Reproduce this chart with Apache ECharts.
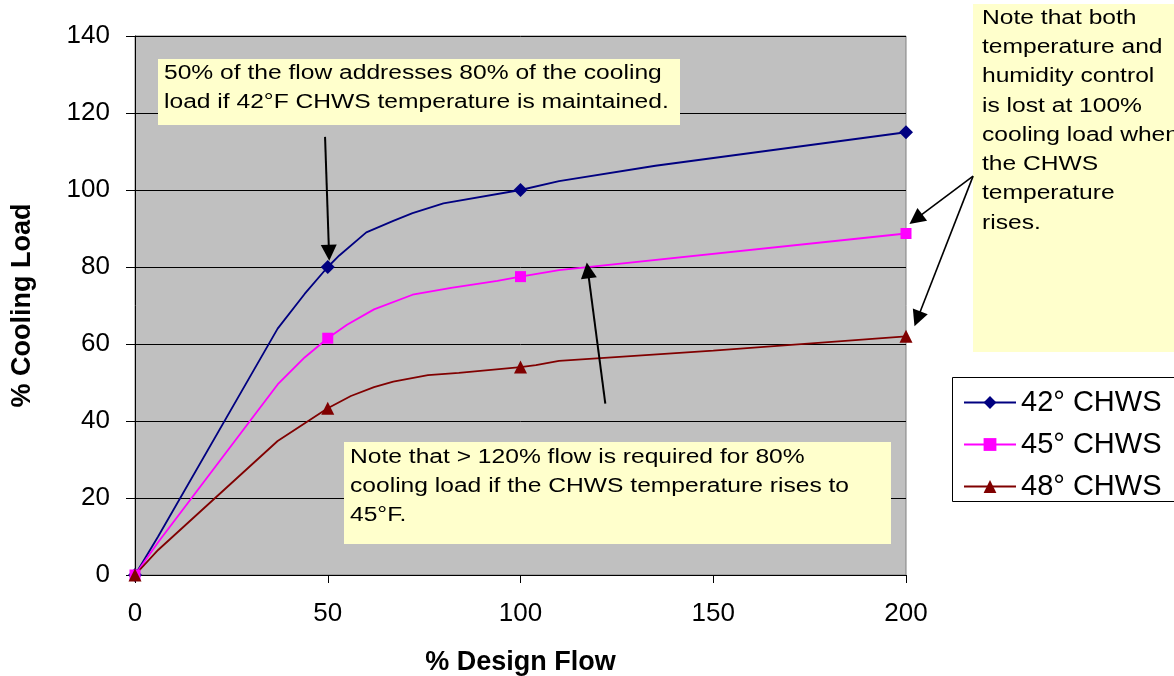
<!DOCTYPE html>
<html>
<head>
<meta charset="utf-8">
<script src="https://cdn.jsdelivr.net/npm/echarts@6/dist/echarts.min.js"></script>
<style>
  html, body { margin: 0; padding: 0; background: #ffffff; }
  #chart { width: 1174px; height: 676px; }
</style>
</head>
<body>
<div id="chart"></div>
<script>
// Chilled-water supply temperature curves: % design flow vs % cooling load
const flow42 = [0, 6, 37, 44, 50, 53, 60, 67, 72, 80, 100, 110, 135, 200];
const load42 = [0, 10, 64, 73, 80, 83, 89, 92, 94, 96.5, 100, 102.3, 106.3, 115];

const flow45 = [0, 6, 37, 44, 50, 55, 62, 72, 82, 94, 100, 110, 200];
const load45 = [0, 8.5, 49.5, 56.5, 61.5, 65, 69, 72.8, 74.6, 76.4, 77.5, 79.2, 88.7];

const flow48 = [0, 6, 37, 50, 56, 62, 67, 76, 84, 100, 104, 110, 150, 200];
const load48 = [0, 6.5, 34.8, 43.3, 46.5, 48.8, 50.2, 51.9, 52.5, 54, 54.5, 55.6, 58.3, 62];

// flows at which the measured points are marked
const markerFlows = [0, 50, 100, 200];

const seriesNames = ['42° CHWS', '45° CHWS', '48° CHWS'];
const xTicks = [0, 50, 100, 150, 200];
const yTicks = [0, 20, 40, 60, 80, 100, 120, 140];

const FONT = "'Liberation Sans', Arial, sans-serif";

function buildPoints(flows, loads) {
  return flows.map((f, i) => {
    const item = { value: [f, loads[i]] };
    if (!markerFlows.includes(f)) item.symbol = 'none';
    return item;
  });
}

const chart = echarts.init(document.getElementById('chart'), null, { renderer: 'canvas' });

const lineSeries = [
  { name: seriesNames[0], data: buildPoints(flow42, load42), color: '#000080', symbol: 'diamond', symbolSize: 14 },
  { name: seriesNames[1], data: buildPoints(flow45, load45), color: '#FF00FF', symbol: 'rect', symbolSize: 11 },
  { name: seriesNames[2], data: buildPoints(flow48, load48), color: '#800000', symbol: 'triangle', symbolSize: 13 }
].map(s => ({
  type: 'line',
  name: s.name,
  data: s.data,
  symbol: s.symbol,
  symbolSize: s.symbolSize,
  showAllSymbol: true,
  smooth: false,
  lineStyle: { color: s.color, width: 1.8 },
  itemStyle: { color: s.color },
  emphasis: { disabled: true },
  z: 3
}));

chart.setOption({
  animation: false,
  backgroundColor: '#ffffff',
  textStyle: { fontFamily: FONT },
  grid: {
    left: 135, right: 268, top: 36, bottom: 101,
    outerBoundsMode: 'none',
    containLabel: false,
    show: true, backgroundColor: '#C0C0C0', borderColor: '#808080', borderWidth: 1
  },
  xAxis: {
    type: 'value',
    min: xTicks[0], max: xTicks[xTicks.length - 1], interval: 50,
    name: '% Design Flow',
    nameLocation: 'middle',
    nameGap: 74,
    nameTextStyle: { fontSize: 27, fontWeight: 'bold', color: '#000', fontFamily: FONT },
    axisLine: { show: true, lineStyle: { color: '#000', width: 1 } },
    axisTick: { show: true, length: 8, lineStyle: { color: '#000' } },
    axisLabel: { fontSize: 26, color: '#000', margin: 26, fontFamily: FONT },
    splitLine: { show: false }
  },
  yAxis: {
    type: 'value',
    min: yTicks[0], max: yTicks[yTicks.length - 1], interval: 20,
    name: '% Cooling Load',
    nameLocation: 'middle',
    nameGap: 99,
    nameTextStyle: { fontSize: 27, fontWeight: 'bold', color: '#000', fontFamily: FONT },
    axisLine: { show: true, lineStyle: { color: '#000', width: 1 } },
    axisTick: { show: true, length: 9, lineStyle: { color: '#000' } },
    axisLabel: { fontSize: 26, color: '#000', margin: 25, fontFamily: FONT },
    splitLine: { show: true, lineStyle: { color: '#000', width: 1 } }
  },
  legend: {
    data: seriesNames,
    orient: 'vertical',
    left: 952, top: 377,
    itemWidth: 52, itemHeight: 16, itemGap: 13,
    padding: [11, 10, 5, 11],
    textStyle: { fontSize: 29, color: '#000', fontFamily: FONT },
    selectedMode: false
  },
  series: lineSeries
});

// Callout notes and their pointers (pointer ends given in chart units)
const notes = [
  { box: [158, 59, 522, 66], textAt: [164, 59], lineHeight: 29,
    text: '50% of the flow addresses 80% of the cooling\nload if 42°F CHWS temperature is maintained.' },
  { box: [344, 442, 547, 102], textAt: [350, 442.5], lineHeight: 29,
    text: 'Note that > 120% flow is required for 80%\ncooling load if the CHWS temperature rises to\n45°F.' },
  { box: [973, 4, 210, 348], textAt: [982, 3.5], lineHeight: 29.3,
    text: 'Note that both\ntemperature and\nhumidity control\nis lost at 100%\ncooling load when\nthe CHWS\ntemperature\nrises.' }
];

const pointers = [
  { from: [49.3, 113.8], to: [50.4, 81.6], width: 2 },
  { from: [122.0, 44.5], to: [117.2, 81.2], width: 2 },
  { from: [217.4, 103.6], to: [200.9, 91.2], width: 1.6 },
  { from: [217.4, 103.6], to: [202.2, 64.6], width: 1.6 }
];

function arrowElements(p) {
  const a = chart.convertToPixel({ gridIndex: 0 }, p.from);
  const b = chart.convertToPixel({ gridIndex: 0 }, p.to);
  const dx = b[0] - a[0], dy = b[1] - a[1];
  const len = Math.sqrt(dx * dx + dy * dy);
  const ux = dx / len, uy = dy / len;
  const headLen = 16, headHalf = 8;
  const base = [b[0] - ux * headLen, b[1] - uy * headLen];
  return [
    { type: 'line', z: 20, silent: true,
      shape: { x1: a[0], y1: a[1], x2: base[0] + ux * 2, y2: base[1] + uy * 2 },
      style: { stroke: '#000', lineWidth: p.width } },
    { type: 'polygon', z: 21, silent: true,
      shape: { points: [
        [b[0], b[1]],
        [base[0] - uy * headHalf, base[1] + ux * headHalf],
        [base[0] + uy * headHalf, base[1] - ux * headHalf]
      ] },
      style: { fill: '#000' } }
  ];
}

const graphics = [
  // legend frame, running off the right edge of the page
  { type: 'rect', z: -1, silent: true,
    shape: { x: 952.5, y: 377.5, width: 260, height: 124 },
    style: { fill: '#ffffff', stroke: '#000000', lineWidth: 1 } }
];
notes.forEach(n => {
  graphics.push({
    type: 'rect', z: 10, silent: true,
    shape: { x: n.box[0], y: n.box[1], width: n.box[2], height: n.box[3] },
    style: { fill: '#FFFFCC' }
  });
  graphics.push({
    type: 'text', z: 11, silent: true,
    x: n.textAt[0], y: n.textAt[1], scaleX: 1.23,
    style: {
      text: n.text, fill: '#000', fontSize: 20, fontFamily: FONT,
      lineHeight: n.lineHeight, align: 'left', verticalAlign: 'top'
    }
  });
});
pointers.forEach(p => arrowElements(p).forEach(e => graphics.push(e)));

chart.setOption({ graphic: { elements: graphics } });
</script>
</body>
</html>
